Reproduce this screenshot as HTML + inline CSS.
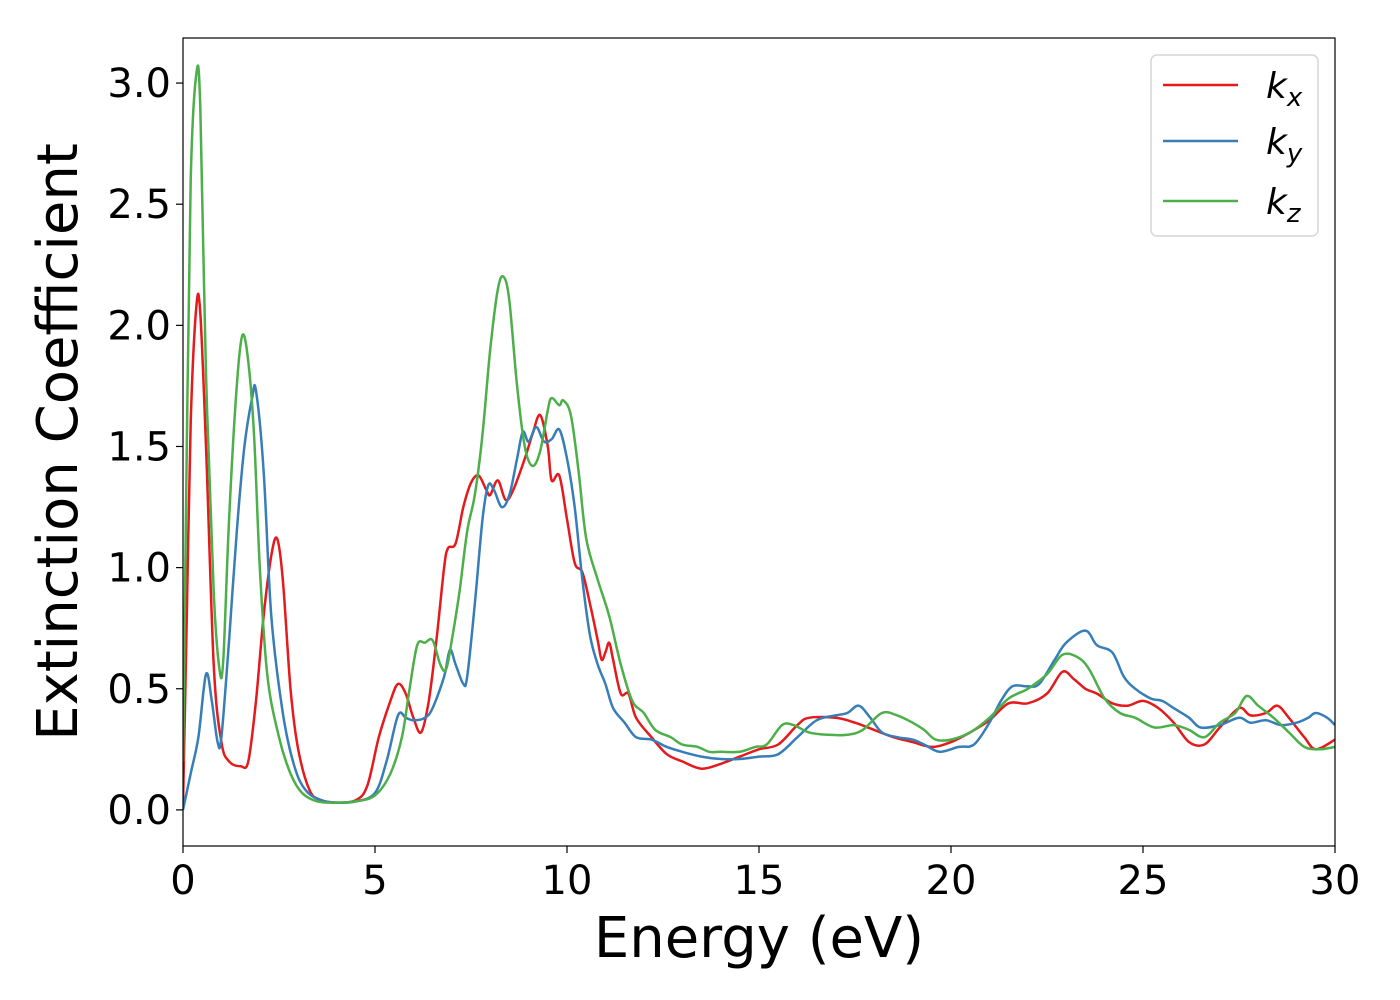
<!DOCTYPE html>
<html><head><meta charset="utf-8"><style>
html,body{margin:0;padding:0;background:#fff;}
svg{display:block;font-family:"DejaVu Sans","Liberation Sans",sans-serif;}
</style></head><body>
<svg id="chart" width="1400" height="1000" viewBox="0 0 1400 1000" xmlns="http://www.w3.org/2000/svg">
<rect x="0" y="0" width="1400" height="1000" fill="#fff"/>
<g id="plot"></g>
<g id="axes"></g>
<g>
  <rect x="1151" y="55" width="167" height="181" rx="6" fill="#fff" fill-opacity="0.8" stroke="#d6d6d6" stroke-width="1.5"/>
  <g>
    <line x1="1163" y1="85" x2="1238" y2="85" stroke="#e41a1c" stroke-width="2.5"/>
    <text x="1266" y="98" font-size="36" font-style="italic">k<tspan font-size="26" dy="8">x</tspan></text>
  </g>
  <g>
    <line x1="1163" y1="141" x2="1238" y2="141" stroke="#377eb8" stroke-width="2.5"/>
    <text x="1266" y="154" font-size="36" font-style="italic">k<tspan font-size="26" dy="8">y</tspan></text>
  </g>
  <g>
    <line x1="1163" y1="201" x2="1238" y2="201" stroke="#4daf4a" stroke-width="2.5"/>
    <text x="1266" y="214" font-size="36" font-style="italic">k<tspan font-size="26" dy="8">z</tspan></text>
  </g>
</g>
</svg>
<script>
const xTicks = [0, 5, 10, 15, 20, 25, 30];
const xTickLabels = ["0", "5", "10", "15", "20", "25", "30"];
const yTicks = [0, 0.5, 1.0, 1.5, 2.0, 2.5, 3.0];
const yTickLabels = ["0.0", "0.5", "1.0", "1.5", "2.0", "2.5", "3.0"];
const kxE = [0,0.1,0.2,0.35,0.45,0.6,0.8,1.0,1.2,1.5,1.7,1.9,2.1,2.3,2.45,2.6,2.8,3.0,3.3,3.6,4.0,4.5,4.8,5.1,5.4,5.6,5.8,6.0,6.2,6.4,6.6,6.8,6.9,7.1,7.3,7.5,7.7,7.9,8.0,8.2,8.4,8.6,8.9,9.1,9.3,9.5,9.6,9.8,10.0,10.2,10.4,10.6,10.8,10.9,11.0,11.1,11.2,11.4,11.6,11.8,12.2,12.6,13.0,13.5,14.0,14.5,15.0,15.5,16.0,16.3,17.0,17.5,18.0,18.5,19.0,19.5,20.0,20.5,21.0,21.5,22.0,22.5,22.9,23.2,23.5,23.8,24.2,24.6,25.0,25.4,25.8,26.2,26.6,27.0,27.5,27.8,28.2,28.5,28.8,29.2,29.5,30.0];
const kxV = [0.02,0.8,1.6,2.08,2.05,1.5,0.6,0.28,0.2,0.18,0.2,0.45,0.8,1.05,1.12,0.95,0.5,0.25,0.08,0.04,0.03,0.04,0.1,0.3,0.45,0.52,0.48,0.38,0.32,0.45,0.7,1.0,1.08,1.1,1.25,1.35,1.38,1.32,1.3,1.36,1.28,1.32,1.45,1.55,1.63,1.5,1.36,1.38,1.2,1.02,0.98,0.85,0.7,0.62,0.65,0.69,0.62,0.48,0.48,0.38,0.3,0.23,0.2,0.17,0.19,0.22,0.25,0.27,0.35,0.38,0.38,0.36,0.33,0.3,0.28,0.26,0.28,0.32,0.37,0.44,0.44,0.48,0.57,0.54,0.5,0.48,0.44,0.43,0.45,0.42,0.36,0.28,0.27,0.34,0.42,0.39,0.40,0.43,0.38,0.30,0.25,0.29];
const kyE = [0,0.2,0.4,0.6,0.75,0.9,1.0,1.2,1.4,1.6,1.8,1.9,2.1,2.3,2.6,2.9,3.2,3.6,4.0,4.5,5.0,5.3,5.6,5.8,6.0,6.3,6.5,6.8,6.95,7.1,7.3,7.4,7.6,7.8,7.95,8.1,8.3,8.5,8.7,8.85,9.0,9.2,9.4,9.6,9.8,10.0,10.2,10.4,10.6,10.8,11.0,11.2,11.5,11.8,12.2,12.6,13.0,13.5,14.0,14.5,15.0,15.5,16.0,16.5,17.0,17.3,17.6,17.9,18.2,18.6,19.0,19.3,19.7,20.2,20.6,21.0,21.3,21.6,22.0,22.3,22.7,23.0,23.5,23.8,24.2,24.5,24.8,25.2,25.5,25.8,26.2,26.5,27.0,27.5,27.8,28.2,28.6,29.0,29.3,29.5,29.8,30];
const kyV = [0.0,0.15,0.3,0.56,0.45,0.28,0.3,0.7,1.15,1.5,1.7,1.73,1.4,0.8,0.4,0.18,0.08,0.04,0.03,0.035,0.07,0.2,0.39,0.38,0.37,0.38,0.42,0.55,0.66,0.6,0.52,0.55,0.85,1.2,1.34,1.32,1.25,1.3,1.45,1.56,1.52,1.58,1.52,1.53,1.57,1.45,1.25,0.95,0.72,0.6,0.52,0.42,0.36,0.3,0.29,0.26,0.24,0.22,0.21,0.21,0.22,0.23,0.3,0.37,0.39,0.4,0.43,0.38,0.32,0.3,0.29,0.27,0.24,0.26,0.27,0.36,0.45,0.51,0.51,0.52,0.62,0.69,0.74,0.68,0.65,0.55,0.5,0.46,0.45,0.42,0.38,0.34,0.35,0.38,0.36,0.37,0.35,0.36,0.38,0.4,0.38,0.35];
const kzE = [0,0.1,0.2,0.35,0.45,0.6,0.8,0.95,1.05,1.2,1.4,1.55,1.7,1.85,2.0,2.2,2.5,2.8,3.1,3.5,4.0,4.5,5.0,5.4,5.7,5.9,6.1,6.3,6.5,6.7,6.85,7.0,7.2,7.4,7.6,7.8,8.0,8.2,8.35,8.5,8.7,8.9,9.1,9.3,9.5,9.6,9.8,9.9,10.1,10.3,10.5,10.8,11.1,11.4,11.7,12.0,12.3,12.7,13.0,13.4,13.7,14.0,14.5,14.9,15.2,15.6,15.9,16.3,16.8,17.3,17.7,18.2,18.6,19.0,19.3,19.6,20.0,20.5,21.0,21.5,22.0,22.5,22.9,23.3,23.6,24.0,24.4,24.8,25.3,25.8,26.2,26.6,27.0,27.4,27.7,28.0,28.4,28.8,29.2,29.6,30];
const kzV = [0.2,1.5,2.6,3.04,2.9,1.8,0.9,0.58,0.62,1.2,1.75,1.96,1.85,1.55,1.0,0.55,0.3,0.15,0.07,0.035,0.03,0.035,0.06,0.15,0.3,0.5,0.68,0.69,0.7,0.6,0.58,0.7,0.9,1.15,1.3,1.55,1.9,2.15,2.2,2.1,1.75,1.5,1.42,1.48,1.65,1.7,1.67,1.69,1.63,1.4,1.12,0.95,0.8,0.6,0.45,0.4,0.33,0.3,0.27,0.26,0.24,0.24,0.24,0.26,0.27,0.35,0.35,0.32,0.31,0.31,0.33,0.4,0.39,0.36,0.33,0.29,0.29,0.32,0.38,0.46,0.5,0.56,0.64,0.63,0.58,0.46,0.4,0.38,0.34,0.35,0.33,0.3,0.36,0.4,0.47,0.43,0.38,0.32,0.26,0.25,0.26];

const L = 183, R = 1335, T = 38, B = 846;
const xMin = 0, xMax = 30, yMin = -0.149, yMax = 3.186;
function xs(v){ return L + (v - xMin) / (xMax - xMin) * (R - L); }
function ys(v){ return B - (v - yMin) / (yMax - yMin) * (B - T); }
const NS = "http://www.w3.org/2000/svg";
const plot = document.getElementById('plot');
const axes = document.getElementById('axes');

function smoothPath(ex, vy){
  const p = ex.map((e,i)=>[xs(e), ys(vy[i])]);
  let d = "M" + p[0][0].toFixed(1) + "," + p[0][1].toFixed(1);
  for (let i=0;i<p.length-1;i++){
    const p0 = p[i-1]||p[i], p1=p[i], p2=p[i+1], p3=p[i+2]||p[i+1];
    const c1x = p1[0]+(p2[0]-p0[0])/6, c1y = p1[1]+(p2[1]-p0[1])/6;
    const c2x = p2[0]-(p3[0]-p1[0])/6, c2y = p2[1]-(p3[1]-p1[1])/6;
    d += " C"+c1x.toFixed(1)+","+c1y.toFixed(1)+" "+c2x.toFixed(1)+","+c2y.toFixed(1)+" "+p2[0].toFixed(1)+","+p2[1].toFixed(1);
  }
  return d;
}
const clip = document.createElementNS(NS,'clipPath'); clip.setAttribute('id','pc');
const cr = document.createElementNS(NS,'rect');
cr.setAttribute('x',L); cr.setAttribute('y',T); cr.setAttribute('width',R-L); cr.setAttribute('height',B-T);
clip.appendChild(cr); document.getElementById('chart').appendChild(clip);
plot.setAttribute('clip-path','url(#pc)');

const series = [[kxE,kxV,'#e41a1c','line-kx'],[kyE,kyV,'#377eb8','line-ky'],[kzE,kzV,'#4daf4a','line-kz']];
series.forEach(s=>{
  const path = document.createElementNS(NS,'path');
  path.setAttribute('d', smoothPath(s[0], s[1]));
  path.setAttribute('fill','none');
  path.setAttribute('stroke', s[2]);
  path.setAttribute('stroke-width','2.5');
  path.setAttribute('stroke-linejoin','round');
  
  
  plot.appendChild(path);
});

const frame = document.createElementNS(NS,'rect');
frame.setAttribute('x',L); frame.setAttribute('y',T); frame.setAttribute('width',R-L); frame.setAttribute('height',B-T);
frame.setAttribute('fill','none'); frame.setAttribute('stroke','#000'); frame.setAttribute('stroke-width','1.2');


axes.appendChild(frame);

xTicks.forEach((t,i)=>{
  const ln = document.createElementNS(NS,'line');
  ln.setAttribute('x1',xs(t)); ln.setAttribute('x2',xs(t)); ln.setAttribute('y1',B); ln.setAttribute('y2',B+7);
  ln.setAttribute('stroke','#000'); ln.setAttribute('stroke-width','1.2');
  
  
  axes.appendChild(ln);
  const tx = document.createElementNS(NS,'text');
  tx.setAttribute('x',xs(t)); tx.setAttribute('y',B+48); tx.setAttribute('text-anchor','middle'); tx.setAttribute('font-size','40');
  tx.textContent = xTickLabels[i];
  
  
  axes.appendChild(tx);
});
yTicks.forEach((t,i)=>{
  const ln = document.createElementNS(NS,'line');
  ln.setAttribute('x1',L-7); ln.setAttribute('x2',L); ln.setAttribute('y1',ys(t)); ln.setAttribute('y2',ys(t));
  ln.setAttribute('stroke','#000'); ln.setAttribute('stroke-width','1.2');
  
  
  axes.appendChild(ln);
  const tx = document.createElementNS(NS,'text');
  tx.setAttribute('x',L-12); tx.setAttribute('y',ys(t)+14); tx.setAttribute('text-anchor','end'); tx.setAttribute('font-size','40');
  tx.textContent = yTickLabels[i];
  
  
  axes.appendChild(tx);
});
const xt = document.createElementNS(NS,'text');
xt.setAttribute('x',(L+R)/2); xt.setAttribute('y',957); xt.setAttribute('text-anchor','middle'); xt.setAttribute('font-size','56');
xt.textContent = 'Energy (eV)';


axes.appendChild(xt);
const yt = document.createElementNS(NS,'text');
yt.setAttribute('x',0); yt.setAttribute('y',0); yt.setAttribute('text-anchor','middle'); yt.setAttribute('font-size','56');
yt.setAttribute('transform','translate(77,442) rotate(-90)');
yt.textContent = 'Extinction Coefficient';


axes.appendChild(yt);
</script>
</body></html>
